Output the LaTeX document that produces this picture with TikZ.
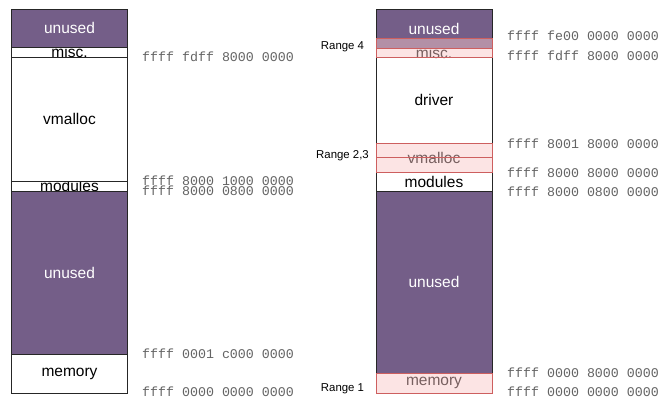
\documentclass[tikz,border=0pt]{standalone}
\usepackage{fontspec}
\setmainfont{Liberation Sans}
\setmonofont{Liberation Mono}
\definecolor{purp}{RGB}{116,94,136}
\definecolor{pinkf}{RGB}{249,199,199}
\definecolor{redb}{RGB}{205,95,95}
\definecolor{addrc}{RGB}{100,100,100}
\begin{document}
\begin{tikzpicture}[x=1pt,y=-1pt,
  box/.style={draw=black!85, line width=0.8pt, inner sep=0pt, outer sep=0pt, minimum width=116pt},
  usedbox/.style={box, fill=white},
  freebox/.style={box, fill=purp},
  lbl/.style={font=\fontsize{15.5}{18}\selectfont, inner sep=0pt},
  wlbl/.style={lbl, text=white},
  addr/.style={font=\ttfamily\fontsize{13.3}{15}\selectfont, text=addrc, anchor=west, inner sep=0pt},
  rng/.style={font=\fontsize{11.4}{13}\selectfont, inner sep=0pt},
  hl/.style={draw=redb, line width=0.8pt, fill=pinkf, fill opacity=0.48, minimum width=116pt, inner sep=0pt, outer sep=0pt}]
\fill[white] (0,0) rectangle (672,401);
\useasboundingbox (0,0) rectangle (672,401);

% ---------- left column ----------
\node[usedbox, minimum height=10pt] (lmod) at (69.5,186) {};
\node[lbl] (lmodt) at (lmod) {modules};
\node[usedbox, minimum height=124pt] (lvm) at (69.5,119) {};
\node[lbl] (lvmt) at (lvm) {vmalloc};
\node[usedbox, minimum height=10pt] (lmisc) at (69.5,52) {};
\node[lbl] (lmisct) at (lmisc) {misc.};
\node[freebox, minimum height=38pt] (lun1) at (69.5,28) {};
\node[wlbl] (lun1t) at (lun1) {unused};
\node[freebox, minimum height=163pt] (lun2) at (69.5,272.5) {};
\node[wlbl] (lun2t) at (lun2) {unused};
\node[usedbox, minimum height=39pt] (lmem) at (69.5,373.5) {};
\node[lbl] (lmemt) at (lmem) {memory};

\node[addr] (la1) at (142,57) {ffff fdff 8000 0000};
\node[addr] (la2) at (142,181) {ffff 8000 1000 0000};
\node[addr] (la3) at (142,191) {ffff 8000 0800 0000};
\node[addr] (la4) at (142,354) {ffff 0001 c000 0000};
\node[addr] (la5) at (142,392) {ffff 0000 0000 0000};

% ---------- right column ----------
\node[usedbox, minimum height=86pt] (rdrv) at (434,100) {};
\node[lbl] (rdrvt) at (rdrv) {driver};
\node[usedbox, minimum height=29pt] (rvm) at (434,157.5) {};
\node[lbl] (rvmt) at (rvm) {vmalloc};
\node[usedbox, minimum height=19pt] (rmod) at (434,181.5) {};
\node[lbl] (rmodt) at (rmod) {modules};
\node[usedbox, minimum height=9pt] (rmisc) at (434,52.5) {};
\node[lbl] (rmisct) at (rmisc) {misc.};
\node[freebox, minimum height=39pt] (run1) at (434,28.5) {};
\node[wlbl] (run1t) at (run1) {unused};
\node[freebox, minimum height=182pt] (run2) at (434,282) {};
\node[wlbl] (run2t) at (run2) {unused};
\node[usedbox, minimum height=20pt] (rmem) at (434,383) {};
\node[lbl] (rmemt) at (rmem) {memory};

% highlighted ranges
\node[hl, minimum height=10pt] (h4a) at (434,43) {};
\node[hl, minimum height=9pt] (h4b) at (434,52.5) {};
\node[hl, minimum height=14pt] (h2) at (434,150) {};
\node[hl, minimum height=15pt] (h3) at (434,164.5) {};
\node[hl, minimum height=20pt] (h1) at (434,383) {};

\node[rng] (r4) at (342.5,47) {Range 4};
\node[rng] (r23) at (342.5,156) {Range 2,3};
\node[rng] (r1) at (342.5,389) {Range 1};

\node[addr] (ra1) at (507,36) {ffff fe00 0000 0000};
\node[addr] (ra2) at (507,55.5) {ffff fdff 8000 0000};
\node[addr] (ra3) at (507,143.5) {ffff 8001 8000 0000};
\node[addr] (ra4) at (507,173) {ffff 8000 8000 0000};
\node[addr] (ra5) at (507,191.5) {ffff 8000 0800 0000};
\node[addr] (ra6) at (507,373) {ffff 0000 8000 0000};
\node[addr] (ra7) at (507,392) {ffff 0000 0000 0000};
\end{tikzpicture}
\end{document}
